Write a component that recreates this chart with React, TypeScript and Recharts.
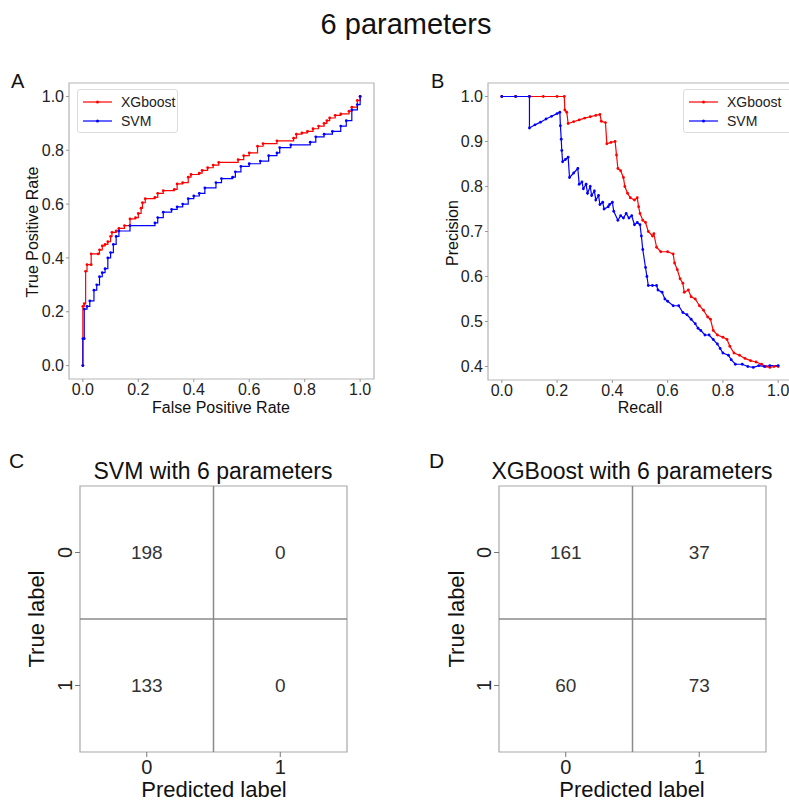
import {
  LineChart,
  Line,
  ScatterChart,
  Scatter,
  XAxis,
  YAxis,
  Legend,
  ReferenceArea,
  ReferenceLine,
} from "recharts";

// ROC curves (false positive rate / true positive rate)
const rocXgbFpr = [0, 0, 0.005, 0.01, 0.015, 0.03, 0.03, 0.055, 0.06, 0.07, 0.08, 0.09, 0.1, 0.105, 0.12, 0.13, 0.15, 0.17, 0.19, 0.2, 0.21, 0.215, 0.225, 0.26, 0.27, 0.29, 0.33, 0.34, 0.36, 0.38, 0.39, 0.42, 0.43, 0.45, 0.47, 0.49, 0.56, 0.58, 0.6, 0.63, 0.65, 0.7, 0.76, 0.77, 0.79, 0.81, 0.83, 0.85, 0.87, 0.88, 0.89, 0.91, 0.93, 0.96, 0.97, 0.99, 1.0];
const rocXgbTpr = [0, 0.22, 0.23, 0.35, 0.375, 0.375, 0.415, 0.415, 0.43, 0.445, 0.45, 0.46, 0.48, 0.495, 0.5, 0.51, 0.52, 0.545, 0.55, 0.565, 0.585, 0.605, 0.62, 0.625, 0.64, 0.65, 0.655, 0.675, 0.68, 0.7, 0.71, 0.715, 0.725, 0.735, 0.745, 0.755, 0.765, 0.78, 0.79, 0.815, 0.825, 0.835, 0.845, 0.86, 0.865, 0.87, 0.88, 0.89, 0.9, 0.91, 0.92, 0.93, 0.935, 0.945, 0.96, 0.985, 1.0];
const rocSvmFpr = [0, 0, 0.005, 0.005, 0.015, 0.025, 0.04, 0.05, 0.06, 0.07, 0.08, 0.09, 0.1, 0.11, 0.12, 0.13, 0.17, 0.26, 0.27, 0.29, 0.32, 0.34, 0.36, 0.38, 0.4, 0.42, 0.44, 0.48, 0.5, 0.54, 0.55, 0.57, 0.6, 0.64, 0.67, 0.7, 0.71, 0.75, 0.82, 0.84, 0.87, 0.9, 0.93, 0.95, 0.97, 0.99, 1.0];
const rocSvmTpr = [0, 0.1, 0.1, 0.21, 0.22, 0.24, 0.28, 0.3, 0.33, 0.345, 0.36, 0.4, 0.42, 0.45, 0.48, 0.5, 0.52, 0.53, 0.55, 0.57, 0.58, 0.59, 0.6, 0.62, 0.63, 0.64, 0.66, 0.68, 0.695, 0.7, 0.72, 0.74, 0.75, 0.76, 0.78, 0.79, 0.81, 0.82, 0.83, 0.85, 0.86, 0.87, 0.89, 0.91, 0.95, 0.97, 1.0];

// precision-recall curves
const prXgbRecall = [0, 0.05, 0.1, 0.15, 0.2, 0.226, 0.228, 0.235, 0.24, 0.26, 0.28, 0.3, 0.32, 0.34, 0.355, 0.36, 0.375, 0.38, 0.395, 0.41, 0.415, 0.42, 0.43, 0.44, 0.445, 0.455, 0.465, 0.48, 0.49, 0.495, 0.5, 0.51, 0.52, 0.53, 0.545, 0.55, 0.56, 0.575, 0.6, 0.62, 0.625, 0.635, 0.645, 0.655, 0.66, 0.675, 0.685, 0.7, 0.715, 0.73, 0.745, 0.755, 0.765, 0.78, 0.8, 0.815, 0.825, 0.84, 0.86, 0.88, 0.9, 0.92, 0.94, 0.955, 0.97, 0.985, 1.0];
const prXgbPrecision = [1, 1, 1, 1, 1, 1, 0.97, 0.965, 0.94, 0.944, 0.948, 0.952, 0.955, 0.958, 0.96, 0.945, 0.942, 0.895, 0.898, 0.9, 0.87, 0.84, 0.835, 0.82, 0.8, 0.785, 0.775, 0.77, 0.775, 0.755, 0.74, 0.725, 0.72, 0.7, 0.69, 0.695, 0.665, 0.655, 0.655, 0.65, 0.63, 0.615, 0.595, 0.585, 0.565, 0.57, 0.555, 0.55, 0.535, 0.525, 0.51, 0.505, 0.48, 0.47, 0.465, 0.46, 0.445, 0.43, 0.425, 0.418, 0.413, 0.41, 0.405, 0.4, 0.398, 0.4, 0.4];
const prSvmRecall = [0, 0.05, 0.1, 0.1, 0.12, 0.14, 0.16, 0.18, 0.2, 0.21, 0.212, 0.215, 0.217, 0.22, 0.23, 0.24, 0.245, 0.26, 0.275, 0.28, 0.29, 0.295, 0.305, 0.31, 0.32, 0.325, 0.335, 0.34, 0.35, 0.355, 0.365, 0.37, 0.385, 0.39, 0.4, 0.405, 0.42, 0.43, 0.44, 0.45, 0.46, 0.47, 0.48, 0.49, 0.5, 0.505, 0.51, 0.52, 0.525, 0.53, 0.545, 0.56, 0.565, 0.58, 0.59, 0.6, 0.62, 0.64, 0.655, 0.67, 0.685, 0.7, 0.71, 0.72, 0.735, 0.75, 0.765, 0.78, 0.79, 0.8, 0.82, 0.83, 0.845, 0.87, 0.89, 0.91, 0.93, 0.95, 0.97, 1.0];
const prSvmPrecision = [1, 1, 1, 0.93, 0.937, 0.943, 0.95, 0.956, 0.962, 0.965, 0.935, 0.905, 0.88, 0.855, 0.86, 0.865, 0.82, 0.83, 0.84, 0.805, 0.81, 0.795, 0.805, 0.785, 0.8, 0.78, 0.79, 0.77, 0.78, 0.76, 0.765, 0.75, 0.755, 0.76, 0.765, 0.745, 0.725, 0.735, 0.73, 0.74, 0.73, 0.735, 0.715, 0.72, 0.715, 0.69, 0.66, 0.62, 0.6, 0.58, 0.58, 0.58, 0.57, 0.565, 0.55, 0.545, 0.535, 0.535, 0.52, 0.515, 0.505, 0.495, 0.485, 0.48, 0.47, 0.47, 0.46, 0.45, 0.44, 0.43, 0.425, 0.415, 0.405, 0.405, 0.4, 0.398, 0.402, 0.4, 0.402, 0.402];

const unitTicks = [0, 0.2, 0.4, 0.6, 0.8, 1.0];
const precisionTicks = [0.4, 0.5, 0.6, 0.7, 0.8, 0.9, 1.0];
const seriesOrder = ["XGboost", "SVM"];

// confusion matrices, rows = true label, cols = predicted label
const classLabels = [0, 1];
const svmMatrix = [
  [198, 0],
  [133, 0],
];
const xgbMatrix = [
  [161, 37],
  [60, 73],
];

const RED = "#ff0000";
const BLUE = "#0000ff";
const FONT = "'Liberation Sans', Arial, sans-serif";

const zip = (xs: number[], ys: number[]) => xs.map((x, i) => ({ x, y: ys[i] }));

const cells = (m: number[][]) =>
  classLabels.flatMap((row) => classLabels.map((col) => ({ x: col, y: row, v: m[row][col] })));

function LegendBox({ payload }: any) {
  const items = [...(payload || [])].sort(
    (a: any, b: any) => seriesOrder.indexOf(a.value) - seriesOrder.indexOf(b.value)
  );
  return (
    <div
      style={{
        border: "1px solid #dcdcdc",
        borderRadius: 3,
        background: "#fff",
        height: 44,
        boxSizing: "border-box",
        fontFamily: FONT,
        fontSize: 14,
        color: "#222",
      }}
    >
      {items.map((p: any, i: number) => (
        <div key={i} style={{ position: "relative", height: 19, top: 3 }}>
          <svg width={32} height={19} style={{ position: "absolute", left: 4, top: 0 }}>
            <line x1={1} x2={30} y1={9} y2={9} stroke={p.color} strokeWidth={1.2} />
            <circle cx={15.5} cy={9} r={1.5} fill={p.color} />
          </svg>
          <span style={{ position: "absolute", left: 43, top: 1 }}>{p.value}</span>
        </div>
      ))}
    </div>
  );
}

const tickStyle = { fontSize: 16, fill: "#222" };

function CurvePanel({ left, top, width, margin, xDomain, yDomain, yTicks, series, legendPos, curve }: any) {
  return (
    <div style={{ position: "absolute", left, top }}>
      <LineChart width={width} height={350} margin={margin}>
        <XAxis
          type="number"
          dataKey="x"
          domain={xDomain}
          ticks={unitTicks}
          tickFormatter={(v: number) => v.toFixed(1)}
          axisLine={false}
          tickLine={{ stroke: "#999" }}
          tickSize={3}
          tickMargin={2}
          tick={tickStyle}
          height={26}
          allowDataOverflow
        />
        <YAxis
          type="number"
          dataKey="y"
          domain={yDomain}
          ticks={yTicks}
          tickFormatter={(v: number) => v.toFixed(1)}
          axisLine={false}
          tickLine={{ stroke: "#999" }}
          tickSize={3}
          tickMargin={2}
          tick={tickStyle}
          width={40}
          allowDataOverflow
        />
        <ReferenceArea
          x1={xDomain[0]}
          x2={xDomain[1]}
          y1={yDomain[0]}
          y2={yDomain[1]}
          fill="none"
          stroke="#b5b5b5"
          strokeWidth={1.2}
        />
        <Legend
          layout="vertical"
          align="center"
          verticalAlign="middle"
          wrapperStyle={{ position: "absolute", left: legendPos.left, top: legendPos.top, width: legendPos.width }}
          content={(props: any) => <LegendBox payload={props.payload} />}
        />
        {series.map((s: any) => (
          <Line
            key={s.name}
            data={s.data}
            dataKey="y"
            name={s.name}
            type={curve}
            stroke={s.color}
            strokeWidth={1.2}
            dot={{ r: 1.4, fill: s.color, stroke: s.color, strokeWidth: 0 }}
            isAnimationActive={false}
          />
        ))}
      </LineChart>
    </div>
  );
}

function RotatedTick({ x, y, payload }: any) {
  return (
    <text
      x={x}
      y={y}
      transform={`rotate(-90, ${x}, ${y})`}
      textAnchor="middle"
      fontSize={20}
      fill="#222"
    >
      {payload.value}
    </text>
  );
}

function MatrixPanel({ left, matrix, marginLeft, marginRight }: any) {
  return (
    <div style={{ position: "absolute", left, top: 440 }}>
      <ScatterChart width={380} height={361} margin={{ top: 46, right: marginRight, bottom: 19, left: marginLeft }}>
        <XAxis
          type="number"
          dataKey="x"
          domain={[-0.5, 1.5]}
          ticks={classLabels}
          axisLine={false}
          tickLine={{ stroke: "#777" }}
          tickSize={5}
          tickMargin={3}
          tick={{ fontSize: 20, fill: "#222" }}
          height={30}
        />
        <YAxis
          type="number"
          dataKey="y"
          domain={[-0.5, 1.5]}
          ticks={classLabels}
          reversed
          axisLine={false}
          tickLine={{ stroke: "#777" }}
          tickSize={5}
          tickMargin={3}
          tick={<RotatedTick />}
          width={30}
        />
        <ReferenceArea x1={-0.5} x2={1.5} y1={-0.5} y2={1.5} fill="#fff" stroke="#a8a8a8" strokeWidth={1.2} />
        <ReferenceLine x={0.5} stroke="#8a8a8a" strokeWidth={1.5} />
        <ReferenceLine y={0.5} stroke="#8a8a8a" strokeWidth={1.5} />
        <Scatter
          data={cells(matrix)}
          isAnimationActive={false}
          shape={(p: any) => (
            <text x={p.cx} y={p.cy} textAnchor="middle" dominantBaseline="central" fontSize={19} fill="#333">
              {p.payload.v}
            </text>
          )}
        />
      </ScatterChart>
    </div>
  );
}

export default function App() {
  return (
    <div
      style={{
        position: "absolute",
        left: 0,
        top: 0,
        width: 789,
        height: 801,
        overflow: "hidden",
        background: "#fff",
        fontFamily: FONT,
      }}
    >
      <CurvePanel
        left={0}
        top={60}
        width={390}
        margin={{ top: 23, right: 16, bottom: 5, left: 29 }}
        xDomain={[-0.05, 1.05]}
        yDomain={[-0.05, 1.05]}
        yTicks={unitTicks}
        curve="stepAfter"
        legendPos={{ left: 77, top: 29, width: 101 }}
        series={[
          { name: "XGboost", color: RED, data: zip(rocXgbFpr, rocXgbTpr) },
          { name: "SVM", color: BLUE, data: zip(rocSvmFpr, rocSvmTpr) },
        ]}
      />
      <CurvePanel
        left={400}
        top={60}
        width={400}
        margin={{ top: 23, right: 8, bottom: 4, left: 48 }}
        xDomain={[-0.05, 1.05]}
        yDomain={[0.37, 1.03]}
        yTicks={precisionTicks}
        curve="linear"
        legendPos={{ left: 283, top: 29, width: 110 }}
        series={[
          { name: "XGboost", color: RED, data: zip(prXgbRecall, prXgbPrecision) },
          { name: "SVM", color: BLUE, data: zip(prSvmRecall, prSvmPrecision) },
        ]}
      />
      <MatrixPanel left={0} matrix={svmMatrix} marginLeft={50} marginRight={33} />
      <MatrixPanel left={420} matrix={xgbMatrix} marginLeft={49} marginRight={34} />

      <svg
        width={789}
        height={801}
        style={{ position: "absolute", left: 0, top: 0, pointerEvents: "none" }}
        fontFamily={FONT}
        fill="#111"
      >
        <text x={406} y={34} fontSize={29} textAnchor="middle">6 parameters</text>
        <text x={11} y={88} fontSize={20}>A</text>
        <text x={431} y={88} fontSize={20}>B</text>
        <text x={9} y={468} fontSize={21}>C</text>
        <text x={429} y={468} fontSize={21}>D</text>

        <text x={221} y={413} fontSize={16} textAnchor="middle">False Positive Rate</text>
        <text x={32} y={232} fontSize={16} textAnchor="middle" dominantBaseline="central" transform="rotate(-90, 32, 232)">
          True Positive Rate
        </text>
        <text x={640} y={413} fontSize={16} textAnchor="middle">Recall</text>
        <text x={452} y={233} fontSize={16} textAnchor="middle" dominantBaseline="central" transform="rotate(-90, 452, 233)">
          Precision
        </text>

        <text x={213} y={479} fontSize={23} textAnchor="middle">SVM with 6 parameters</text>
        <text x={632} y={479} fontSize={23} textAnchor="middle">XGBoost with 6 parameters</text>
        <text x={214} y={797} fontSize={22} textAnchor="middle">Predicted label</text>
        <text x={632} y={797} fontSize={22} textAnchor="middle">Predicted label</text>
        <text x={36} y={619} fontSize={22} textAnchor="middle" dominantBaseline="central" transform="rotate(-90, 36, 619)">
          True label
        </text>
        <text x={456} y={619} fontSize={22} textAnchor="middle" dominantBaseline="central" transform="rotate(-90, 456, 619)">
          True label
        </text>
      </svg>
    </div>
  );
}
